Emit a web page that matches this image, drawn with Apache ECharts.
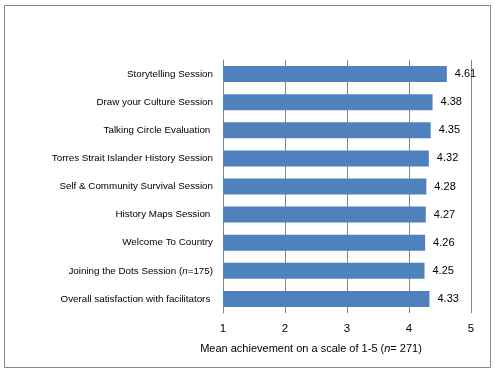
<!DOCTYPE html>
<html><head><meta charset="utf-8">
<script src="https://cdn.jsdelivr.net/npm/echarts@6/dist/echarts.min.js"></script>
<style>html,body{margin:0;padding:0;background:#fff}#c{width:495px;height:372px}</style>
</head><body><div id="c"></div>
<script>
const categories = [
  "Storytelling Session",
  "Draw your Culture Session",
  "Talking Circle Evaluation ",
  "Torres Strait Islander History Session",
  "Self & Community Survival Session",
  "History Maps Session ",
  "Welcome To Country",
  "Joining the Dots Session (n=175)",
  "Overall satisfaction with facilitators "
];
const values = [4.61, 4.38, 4.35, 4.32, 4.28, 4.27, 4.26, 4.25, 4.33];
const tickLabels = ["1", "2", "3", "4", "5"];

const FONT = "'Liberation Sans', sans-serif";
const chart = echarts.init(document.getElementById('c'));
chart.setOption({
  animation: false,
  graphic: [{
    type: 'rect', shape: {x: 4.5, y: 5.5, width: 486, height: 362},
    style: {fill: 'none', stroke: '#868686', lineWidth: 1}, silent: true
  }],
  title: {
    left: 306, top: 338, textAlign: 'center',
    text: 'Mean achievement on a scale of 1-5 ({i|n}= 271)',
    textStyle: {
      fontFamily: FONT, fontSize: 11, fontWeight: 'normal', color: '#000',
      rich: {i: {fontFamily: FONT, fontSize: 11, fontStyle: 'italic', color: '#000'}}
    }
  },
  grid: {left: 223, right: 24, top: 60, bottom: 59, containLabel: false},
  xAxis: {
    type: 'value', min: 1, max: 5, interval: 1,
    axisLine: {show: false},
    axisTick: {show: false},
    splitLine: {show: true, lineStyle: {color: '#868686', width: 1}},
    axisLabel: {
      fontFamily: FONT, fontSize: 11.5, color: '#000', margin: 10,
      formatter: function (v) { return tickLabels[Math.round(v) - 1]; }
    }
  },
  yAxis: {
    type: 'category', inverse: true, data: categories,
    axisLine: {show: true, lineStyle: {color: '#868686'}},
    axisTick: {show: false},
    axisLabel: {
      fontFamily: FONT, fontSize: 9.8, color: '#000', margin: 10,
      formatter: function (v) {
        return v.replace('(n=', '({i|n}=');
      },
      rich: {i: {fontFamily: FONT, fontSize: 9.8, fontStyle: 'italic', color: '#000'}}
    }
  },
  series: [{
    type: 'bar', data: values, barCategoryGap: '43%',
    itemStyle: {color: '#4F81BD'},
    label: {
      show: true, position: 'right', distance: 8,
      fontFamily: FONT, fontSize: 11, color: '#000',
      formatter: function (p) { return p.value.toFixed(2); }
    }
  }]
});
</script></body></html>
